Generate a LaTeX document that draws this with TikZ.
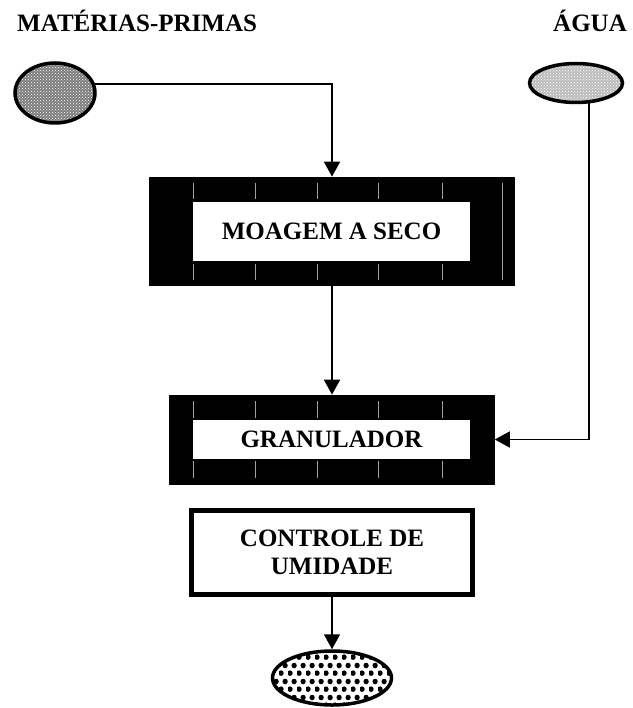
\documentclass[tikz,border=0pt]{standalone}
\usepackage{fontspec}
\setmainfont{Liberation Serif}
\usetikzlibrary{arrows.meta,positioning,shapes.geometric,patterns,patterns.meta}
\definecolor{Ink}{HTML}{000000}
\definecolor{Tick}{HTML}{A0A0A0}
\definecolor{RawGrey}{HTML}{7E7E7E}
\definecolor{WaterGrey}{HTML}{BDBDBD}
\tikzdeclarepattern{
  name=hexdots,
  type=uncolored,
  bounding box={(0pt,0pt) and (9pt,16pt)},
  tile size={(9pt,16pt)},
  code={
    \fill (2.25pt,4pt) circle (2.9pt);
    \fill (6.75pt,12pt) circle (2.9pt);
  }
}
\tikzset{
  src/.style={ellipse,draw=Ink,line width=3.5pt,inner sep=0pt},
  mill/.style={draw=Ink,fill=Ink,line width=0.6pt,inner sep=0pt},
  slot/.style={fill=white,inner sep=0pt,align=center,font=\fontsize{25}{28}\selectfont\bfseries,text=Ink},
  ctrlbox/.style={draw=Ink,line width=5pt,fill=white,align=center,font=\fontsize{25}{28}\selectfont\bfseries,text=Ink},
  title/.style={inner sep=0pt,font=\fontsize{25}{28}\selectfont\bfseries,text=Ink},
  tick/.style={draw=Tick,line width=0.9pt},
  arr/.style={-{Triangle[length=15pt,width=16pt]},draw=Ink,line width=1.6pt}
}

\begin{document}
\begin{tikzpicture}[x=1pt,y=-1pt]
  \useasboundingbox (0,0) rectangle (632,708);
  % inputs
  \node[title,anchor=base west] (mptxt) at (17,32) {MATÉRIAS-PRIMAS};
  \node[title,anchor=base east] (wattxt) at (627,32) {ÁGUA};
  \node[src,minimum width=80pt,minimum height=60pt,preaction={fill=RawGrey},pattern=crosshatch dots,pattern color=white] (mp) at (55,93) {};
  \node[src,minimum width=93pt,minimum height=39pt,preaction={fill=WaterGrey},pattern=crosshatch dots,pattern color=white] (wat) at (576,83) {};
  % dry milling
  \node[mill,minimum width=365pt,minimum height=108pt] (moag) at (332,231) {};
  \node[slot,minimum width=277pt,minimum height=59pt] (moagin) at (331.5,231.5) {MOAGEM A SECO};
  \foreach \x in {193,255,317,378,442} {
    \draw[tick] (\x,183) -- (\x,199);
    \draw[tick] (\x,264) -- (\x,280);
  }
  \draw[tick] (502,183) -- (502,280);
  % granulator
  \node[mill,minimum width=325pt,minimum height=89pt] (gran) at (332,439.5) {};
  \node[slot,minimum width=277pt,minimum height=39pt] (granin) at (331.5,439.5) {GRANULADOR};
  \foreach \x in {193,255,317,378,442} {
    \draw[tick] (\x,401) -- (\x,418);
    \draw[tick] (\x,461) -- (\x,478);
  }
  % moisture
  \node[ctrlbox,minimum width=281pt,minimum height=84pt] (ctrl) at (332,552.5) {CONTROLE DE\\UMIDADE};
  \node[src,fill=white,minimum width=119pt,minimum height=54pt,pattern=hexdots,pattern color=Ink] (out) at (332,678) {};

  \draw[arr] (mp.13) -| (moag.north);
  \draw[arr] (moag.south) -- (gran.north);
  \draw[arr] (wat.-57) |- (gran.east);
  \draw[arr] (ctrl.south) -- (out.north);
\end{tikzpicture}
\end{document}
